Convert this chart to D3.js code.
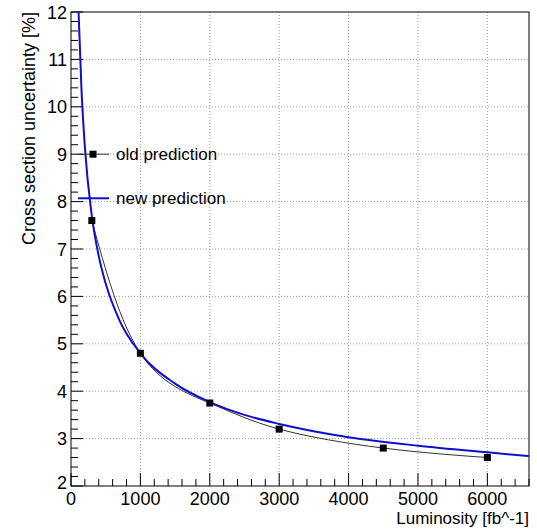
<!DOCTYPE html>
<html>
<head>
<meta charset="utf-8">
<script src="https://cdn.jsdelivr.net/npm/d3@7"></script>
<style>
  body { margin: 0; background: #fff; }
  text { font-family: "Liberation Sans", Arial, sans-serif; fill: #000; }
</style>
</head>
<body>
<svg id="chart" width="537" height="530"></svg>
<script>
// old prediction (markers + smooth curve)
const oldLumi = [300, 1000, 2000, 3000, 4500, 6000];
const oldUnc  = [7.6, 4.8, 3.75, 3.2, 2.8, 2.6];

// new prediction (curve)
const newLumi = [109, 150, 200, 300, 400, 500, 700, 1000, 1500, 2000, 2500, 3000, 4000, 5000, 6000, 6600];
const newUnc  = [12.0, 10.4, 9.15, 7.7, 6.85, 6.27, 5.49, 4.80, 4.16, 3.77, 3.50, 3.31, 3.03, 2.85, 2.71, 2.63];

const xTicks = [0, 1000, 2000, 3000, 4000, 5000, 6000];
const yTicks = [2, 3, 4, 5, 6, 7, 8, 9, 10, 11, 12];

const svg = d3.select("#chart");
const plotLeft = 71, plotRight = 529, plotTop = 12, plotBottom = 486;

const x = d3.scaleLinear().domain([0, 6600]).range([plotLeft, plotRight]);
const y = d3.scaleLinear().domain([2, 12]).range([plotBottom, plotTop]);

// rejilla punteada
svg.append("g").selectAll("line")
  .data(xTicks.slice(1))
  .enter().append("line")
  .attr("x1", d => x(d)).attr("x2", d => x(d))
  .attr("y1", plotTop).attr("y2", plotBottom)
  .attr("stroke", "#999").attr("stroke-dasharray", "1,2").attr("stroke-width", 1);
svg.append("g").selectAll("line")
  .data(yTicks.slice(1, -1))
  .enter().append("line")
  .attr("x1", plotLeft).attr("x2", plotRight)
  .attr("y1", d => y(d)).attr("y2", d => y(d))
  .attr("stroke", "#999").attr("stroke-dasharray", "1,2").attr("stroke-width", 1);

// marco
svg.append("rect")
  .attr("x", plotLeft).attr("y", plotTop)
  .attr("width", plotRight - plotLeft).attr("height", plotBottom - plotTop)
  .attr("fill", "none").attr("stroke", "#000").attr("stroke-width", 1);

// ticks menores y mayores
const xMinor = d3.range(0, 6601, 200);
svg.append("g").selectAll("line")
  .data(xMinor).enter().append("line")
  .attr("x1", d => x(d)).attr("x2", d => x(d))
  .attr("y1", plotBottom).attr("y2", d => plotBottom - (d % 1000 === 0 ? 13 : 7))
  .attr("stroke", "#000");
const yMinor = d3.range(2, 12.001, 0.2);
svg.append("g").selectAll("line")
  .data(yMinor).enter().append("line")
  .attr("y1", d => y(d)).attr("y2", d => y(d))
  .attr("x1", plotLeft).attr("x2", d => plotLeft + (Math.abs(d - Math.round(d)) < 1e-6 ? 12 : 7))
  .attr("stroke", "#000");

// etiquetas de ejes
svg.append("g").selectAll("text")
  .data(xTicks).enter().append("text")
  .attr("x", d => x(d)).attr("y", 505)
  .attr("text-anchor", "middle")
  .style("font-size", "18px")
  .text(d => d);
svg.append("g").selectAll("text")
  .data(yTicks).enter().append("text")
  .attr("x", 67).attr("y", d => y(d) + 6.5 - (d === 2 ? 4 : 0))
  .attr("text-anchor", "end")
  .style("font-size", "18px")
  .text(d => d);

svg.append("text")
  .attr("x", plotRight).attr("y", 524)
  .attr("text-anchor", "end")
  .style("font-size", "17px")
  .text("Luminosity [fb^-1]");
svg.append("text")
  .attr("transform", `translate(35,${plotTop}) rotate(-90)`)
  .attr("text-anchor", "end")
  .style("font-size", "18px")
  .text("Cross section uncertainty [%]");

// curvas
const oldData = oldLumi.map((l, i) => [l, oldUnc[i]]);
const newData = newLumi.map((l, i) => [l, newUnc[i]]);

svg.append("path")
  .datum(oldData)
  .attr("d", d3.line().x(d => x(d[0])).y(d => y(d[1])).curve(d3.curveNatural))
  .attr("fill", "none").attr("stroke", "#333").attr("stroke-width", 1);

svg.append("path")
  .datum(newData)
  .attr("d", d3.line().x(d => x(d[0])).y(d => y(d[1])).curve(d3.curveMonotoneX))
  .attr("fill", "none").attr("stroke", "#1010cc").attr("stroke-width", 2);

svg.append("g").selectAll("rect")
  .data(oldData).enter().append("rect")
  .attr("x", d => x(d[0]) - 3.5).attr("y", d => y(d[1]) - 3.5)
  .attr("width", 7).attr("height", 7)
  .attr("fill", "#000");

// leyenda
const legY1 = y(9), legY2 = y(8.07);
svg.append("line").attr("x1", 78).attr("x2", 109).attr("y1", legY1).attr("y2", legY1)
  .attr("stroke", "#333").attr("stroke-width", 1);
svg.append("rect").attr("x", 93 - 3.5).attr("y", legY1 - 3.5).attr("width", 7).attr("height", 7).attr("fill", "#000");
svg.append("text").attr("x", 116).attr("y", legY1 + 6).style("font-size", "17px").text("old prediction");

svg.append("line").attr("x1", 78).attr("x2", 109).attr("y1", legY2).attr("y2", legY2)
  .attr("stroke", "#1010cc").attr("stroke-width", 2);
svg.append("text").attr("x", 116).attr("y", legY2 + 6).style("font-size", "17px").text("new prediction");
</script>
</body>
</html>
